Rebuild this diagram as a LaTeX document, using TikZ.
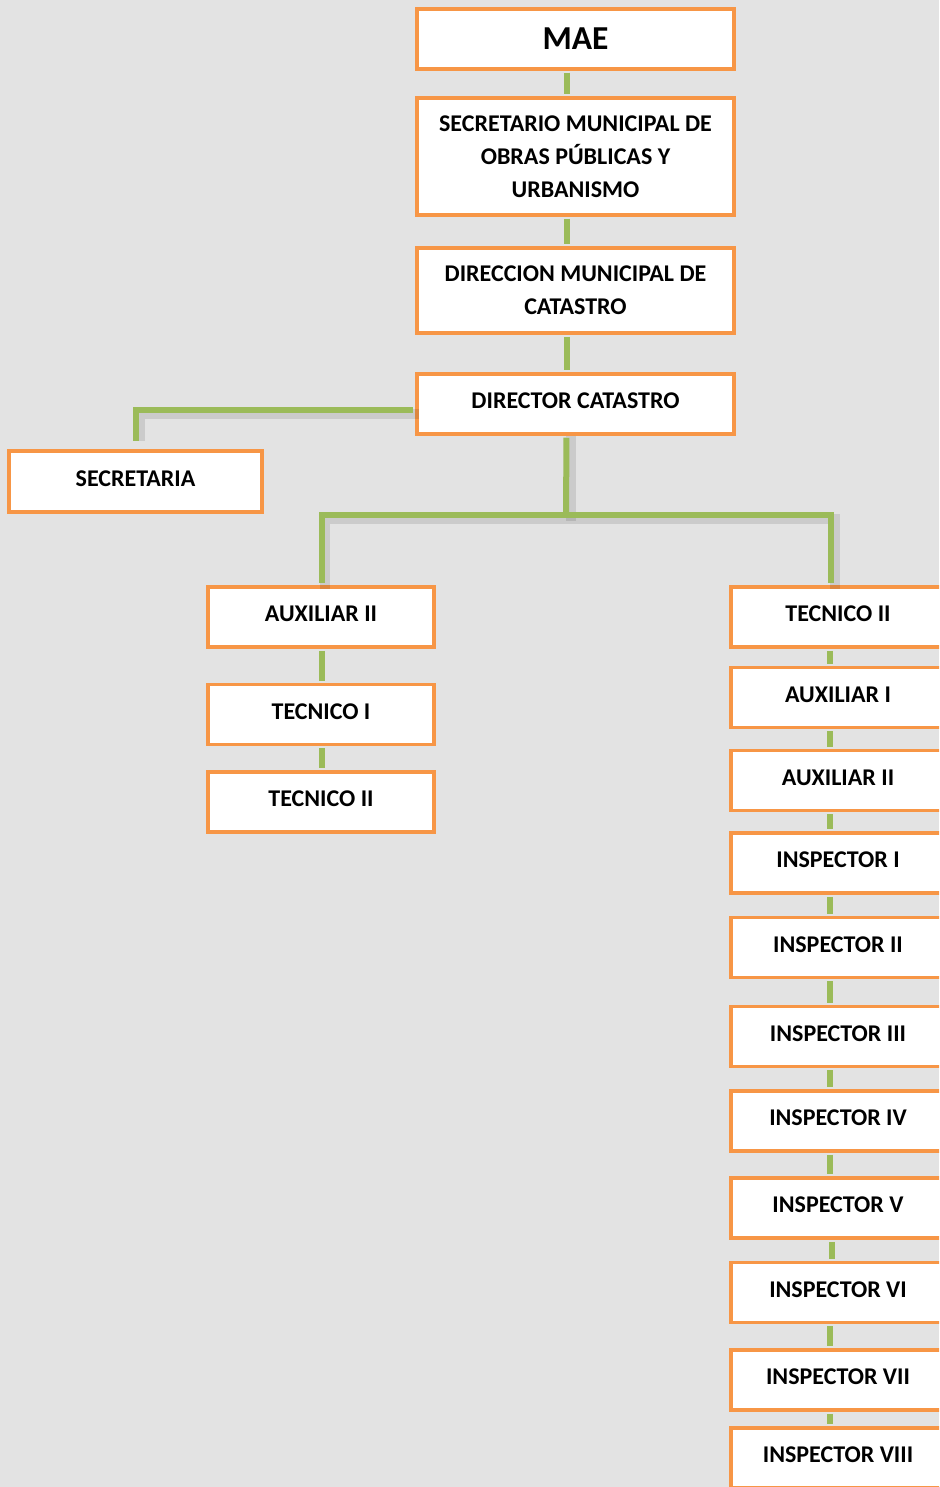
\documentclass[tikz,border=0pt]{standalone}
\usepackage{fontspec}
\setmainfont{Carlito}
\definecolor{boxline}{HTML}{F79646}
\definecolor{linkgreen}{HTML}{9BBB59}
\definecolor{paper}{HTML}{E3E3E3}

\begin{document}
\begin{tikzpicture}[
  x=1pt,y=-1pt,
  cargo/.style={draw=boxline,line width=3.5pt,fill=white,minimum height=60pt,inner sep=2pt,
    align=center,font=\bfseries\fontsize{24}{33}\selectfont},
  wide/.style={cargo,minimum width=317pt},
  mid/.style={cargo,minimum width=226pt,text depth=6pt},
  narrow/.style={cargo,minimum width=214pt,text depth=6pt},
  link/.style={draw=linkgreen,line width=6pt},
  shade/.style={draw=black,opacity=.10,line width=10pt}
]
  \useasboundingbox (0,0) rectangle (939,1487);
  \clip (0,0) rectangle (939,1487);
  \fill[paper] (0,0) rectangle (939,1487);

  % top column
  \node[wide,font=\bfseries\fontsize{33.5}{36}\selectfont] (mae) at (575.5,39) {MAE};
  \node[wide,minimum height=117pt] (secm) at (575.5,156.5) {SECRETARIO MUNICIPAL DE\\OBRAS PÚBLICAS Y\\URBANISMO};
  \node[wide,minimum height=85pt] (dirm) at (575.5,290.5) {DIRECCION MUNICIPAL DE\\CATASTRO};
  \node[wide,text depth=6pt] (dirc) at (575.5,404) {DIRECTOR CATASTRO};
  \node[cargo,minimum width=253pt,minimum height=61pt,text depth=6pt] (secr) at (135.5,481.5) {SECRETARIA};

  % left column
  \node[mid] (aux2l) at (321,617) {AUXILIAR II};
  \node[mid] (tec1l) at (321,714.5) {TECNICO I};
  \node[mid] (tec2l) at (321,802) {TECNICO II};

  % right column
  \node[narrow] (tec2r) at (838,617) {TECNICO II};
  \node[narrow] (aux1r) at (838,697.5) {AUXILIAR I};
  \node[narrow] (aux2r) at (838,780.5) {AUXILIAR II};
  \node[narrow] (ins1) at (838,863) {INSPECTOR I};
  \node[narrow] (ins2) at (838,947.5) {INSPECTOR II};
  \node[narrow] (ins3) at (838,1036.5) {INSPECTOR III};
  \node[narrow] (ins4) at (838,1121) {INSPECTOR IV};
  \node[narrow] (ins5) at (838,1208) {INSPECTOR V};
  \node[narrow] (ins6) at (838,1292.5) {INSPECTOR VI};
  \node[narrow] (ins7) at (838,1380) {INSPECTOR VII};
  \node[narrow] (ins8) at (838,1458) {INSPECTOR VIII};

  \coordinate (fork) at (566,515);

  % connectors
  \draw[link,shorten <=2pt,shorten >=2pt] ([xshift=-9pt]mae.south) -- ([xshift=-9pt]secm.north);
  \draw[link,shorten <=2pt,shorten >=2pt] ([xshift=-9pt]secm.south) -- ([xshift=-9pt]dirm.north);
  \draw[link,shorten <=2pt,shorten >=2pt] ([xshift=-9pt]dirm.south) -- ([xshift=-9pt]dirc.north);
  \draw[shade] ([shift={(4pt,-4pt)}]dirc.west) ++(0,6) -| ([xshift=4pt,yshift=8pt]secr.north);
  \draw[link,shorten <=2pt] ([yshift=-6pt]dirc.west) -| ([yshift=8pt]secr.north);
  \draw[shade] ([xshift=-5pt]dirc.south) -- ++(0,85);
  \draw[shade] ([shift={(4pt,-4pt)}]aux2l.north) |- ([yshift=-4pt]fork) -| ([shift={(-3pt,-4pt)}]tec2r.north);
  \draw[link,shorten <=2pt] ([xshift=-9pt]dirc.south) -- (fork);
  \draw[link,shorten >=2pt] (fork) -| ([xshift=1pt]aux2l.north);
  \draw[link,shorten >=2pt] (fork) -| ([xshift=-7pt]tec2r.north);
  \draw[link,shorten <=2pt,shorten >=2pt] ([xshift=1pt]aux2l.south) -- ([xshift=1pt]tec1l.north);
  \draw[link,shorten <=2pt,shorten >=2pt] ([xshift=1pt]tec1l.south) -- ([xshift=1pt]tec2l.north);
  \draw[link,shorten <=2pt,shorten >=2pt] ([xshift=-8pt]tec2r.south) -- ([xshift=-8pt]aux1r.north);
  \draw[link,shorten <=2pt,shorten >=2pt] ([xshift=-8pt]aux1r.south) -- ([xshift=-8pt]aux2r.north);
  \draw[link,shorten <=2pt,shorten >=2pt] ([xshift=-8pt]aux2r.south) -- ([xshift=-8pt]ins1.north);
  \draw[link,shorten <=2pt,shorten >=2pt] ([xshift=-8pt]ins1.south) -- ([xshift=-8pt]ins2.north);
  \draw[link,shorten <=2pt,shorten >=2pt] ([xshift=-8pt]ins2.south) -- ([xshift=-8pt]ins3.north);
  \draw[link,shorten <=2pt,shorten >=2pt] ([xshift=-8pt]ins3.south) -- ([xshift=-8pt]ins4.north);
  \draw[link,shorten <=2pt,shorten >=2pt] ([xshift=-8pt]ins4.south) -- ([xshift=-8pt]ins5.north);
  \draw[link,shorten <=2pt,shorten >=2pt] ([xshift=-6pt]ins5.south) -- ([xshift=-6pt]ins6.north);
  \draw[link,shorten <=2pt,shorten >=2pt] ([xshift=-8pt]ins6.south) -- ([xshift=-8pt]ins7.north);
  \draw[link,shorten <=2pt,shorten >=2pt] ([xshift=-8pt]ins7.south) -- ([xshift=-8pt]ins8.north);
\end{tikzpicture}
\end{document}
